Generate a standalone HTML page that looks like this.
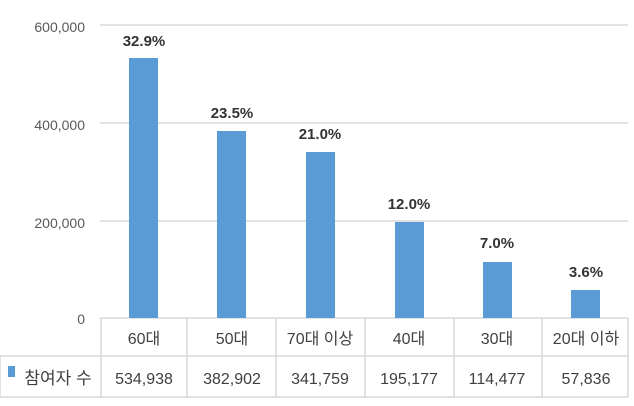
<!DOCTYPE html><html><head><meta charset="utf-8"><style>
body{margin:0;background:#fff;width:634px;height:401px;overflow:hidden;font-family:"Liberation Sans","Noto Sans CJK KR",sans-serif}
</style></head><body>
<svg width="634" height="401" xmlns="http://www.w3.org/2000/svg" font-family="Liberation Sans, Noto Sans CJK KR, sans-serif">
<g stroke="#d9d9d9" stroke-width="1.5">
<line x1="100" y1="25" x2="628" y2="25"/><line x1="100" y1="123" x2="628" y2="123"/><line x1="100" y1="221" x2="628" y2="221"/>
<line x1="100" y1="318" x2="628" y2="318"/><line x1="0" y1="356" x2="628" y2="356"/><line x1="0" y1="397" x2="628" y2="397"/>
<line x1="0" y1="356" x2="0" y2="397"/>
<line x1="101" y1="318" x2="101" y2="397"/><line x1="187" y1="318" x2="187" y2="397"/><line x1="276" y1="318" x2="276" y2="397"/>
<line x1="365" y1="318" x2="365" y2="397"/><line x1="454" y1="318" x2="454" y2="397"/><line x1="542" y1="318" x2="542" y2="397"/><line x1="628" y1="318" x2="628" y2="397"/>
</g>
<g fill="#595959" font-size="14" text-anchor="end">
<text x="85" y="32">600,000</text><text x="85" y="130">400,000</text><text x="85" y="228">200,000</text><text x="85" y="324">0</text>
</g>
<g fill="#5b9bd5">
<rect x="129" y="58" width="29" height="260"/><rect x="217" y="131" width="29" height="187"/><rect x="306" y="152" width="29" height="166"/>
<rect x="395" y="222" width="29" height="96"/><rect x="483" y="262" width="29" height="56"/><rect x="571" y="290" width="29" height="28"/>
<rect x="8" y="366" width="7" height="11"/>
</g>
<g fill="#333" font-size="15" font-weight="bold" text-anchor="middle">
<text x="144" y="46">32.9%</text><text x="232" y="118">23.5%</text><text x="320" y="139">21.0%</text>
<text x="409" y="209">12.0%</text><text x="497" y="248">7.0%</text><text x="586" y="277">3.6%</text>
</g>
<g fill="#404040" font-size="16" text-anchor="middle">
<text x="144" y="344">60대</text><text x="232" y="344">50대</text><text x="320" y="344">70대 이상</text>
<text x="409" y="344">40대</text><text x="497" y="344">30대</text><text x="586" y="344">20대 이하</text>
<text x="144" y="384">534,938</text><text x="232" y="384">382,902</text><text x="320" y="384">341,759</text>
<text x="409" y="384">195,177</text><text x="497" y="384">114,477</text><text x="586" y="384">57,836</text>
<text x="58" y="384" font-size="17">참여자 수</text>
</g>
</svg>
</body></html>
